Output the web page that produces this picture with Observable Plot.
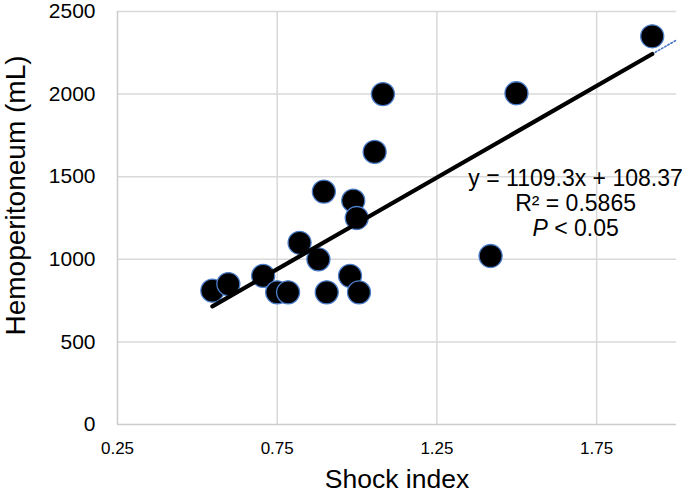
<!DOCTYPE html>
<html>
<head>
<meta charset="utf-8">
<script src="https://cdn.jsdelivr.net/npm/d3@7"></script>
<script src="https://cdn.jsdelivr.net/npm/@observablehq/plot@0.6"></script>
<style>
  html, body { margin: 0; padding: 0; background: #fff; }
  #chart { width: 685px; height: 493px; }
</style>
</head>
<body>
<div id="chart"></div>
<script>
// ---- data ----
const shockIndex     = [0.547, 0.597, 0.706, 0.750, 0.784, 0.820, 0.879, 0.896, 0.905, 0.978, 0.988, 0.999, 1.006, 1.055, 1.081, 1.418, 1.499, 1.924];
const hemoperitoneum = [810,   850,   900,   800,   800,   1100,  1000,  1410,  800,   900,   1355,  1250,  800,   1650,  2000,  1020,  2005,  2350];
const xTicks = [0.25, 0.75, 1.25, 1.75];
const yTicks = [0, 500, 1000, 1500, 2000, 2500];
const slope = 1109.3;
const intercept = 108.37;
const xLabel = "Shock index";
const yLabel = "Hemoperitoneum (mL)";
const annotationLines = ["y = 1109.3x + 108.37", "R\u00b2 = 0.5865", "P < 0.05"];
const annotationX = [1.684, 1.684, 1.684];
const annotationY = [1490, 1340, 1183];

const points = shockIndex.map((x, i) => ({x, y: hemoperitoneum[i]}));
const xMin = d3.min(shockIndex), xMax = d3.max(shockIndex);
const xEnd = 2.0;
const fit = [xMin, xMax].map(x => ({x, y: slope * x + intercept}));
const fitExt = [xMax, xEnd].map(x => ({x, y: slope * x + intercept}));
const annotations = annotationLines.map((t, i) => ({t, x: annotationX[i], y: annotationY[i]}));

const font = "'Liberation Sans', Arial, Helvetica, sans-serif";

const svg = Plot.plot({
  width: 685,
  height: 493,
  marginLeft: 117,
  marginRight: 9,
  marginTop: 11,
  marginBottom: 69,
  style: {fontFamily: font, background: "#fff", color: "#000", overflow: "visible"},
  x: {domain: [0.25, xEnd], ticks: xTicks},
  y: {domain: [0, 2500], ticks: yTicks},
  marks: [
    Plot.gridX(xTicks.slice(1), {stroke: "#d9d9d9", strokeOpacity: 1, strokeWidth: 1.5}),
    Plot.gridY(yTicks.slice(1), {stroke: "#d9d9d9", strokeOpacity: 1, strokeWidth: 1.5}),
    Plot.ruleX([0.25], {stroke: "#cccccc", strokeWidth: 1.5}),
    Plot.ruleY([0], {stroke: "#cccccc", strokeWidth: 1.5}),
    Plot.axisX(xTicks, {tickSize: 0, tickPadding: 17.5, fontSize: 17, label: null, tickFormat: d => d.toFixed(2)}),
    Plot.axisY(yTicks, {tickSize: 0, tickPadding: 22, fontSize: 21, label: null, tickFormat: d => String(d)}),
    Plot.dot(points, {x: "x", y: "y", r: 11.5, fill: "#000", stroke: "#4a7cc9", strokeWidth: 1.3}),
    Plot.line(fitExt, {x: "x", y: "y", stroke: "#4472c4", strokeWidth: 1.6, strokeDasharray: "1.6,2"}),
    Plot.line(fit, {x: "x", y: "y", stroke: "#000", strokeWidth: 4.2}),
    Plot.text(annotations, {x: "x", y: "y", text: "t", fontSize: 23, fill: "#000", textAnchor: "middle"}),
    Plot.text([xLabel], {frameAnchor: "bottom", lineAnchor: "middle", textAnchor: "middle", dy: 55, fontSize: 26.5, fill: "#000"}),
    Plot.text([yLabel], {frameAnchor: "left", lineAnchor: "middle", textAnchor: "middle", rotate: -90, dx: -101.5, dy: -22.5, fontSize: 28, fill: "#000"})
  ]
});

// italic P in the significance line
d3.select(svg).selectAll("text").filter(function() { return this.textContent === "P < 0.05"; })
  .each(function() {
    const t = d3.select(this);
    t.text("");
    t.append("tspan").attr("font-style", "italic").text("P");
    t.append("tspan").text(" < 0.05");
  });

document.getElementById("chart").appendChild(svg);
</script>
</body>
</html>
